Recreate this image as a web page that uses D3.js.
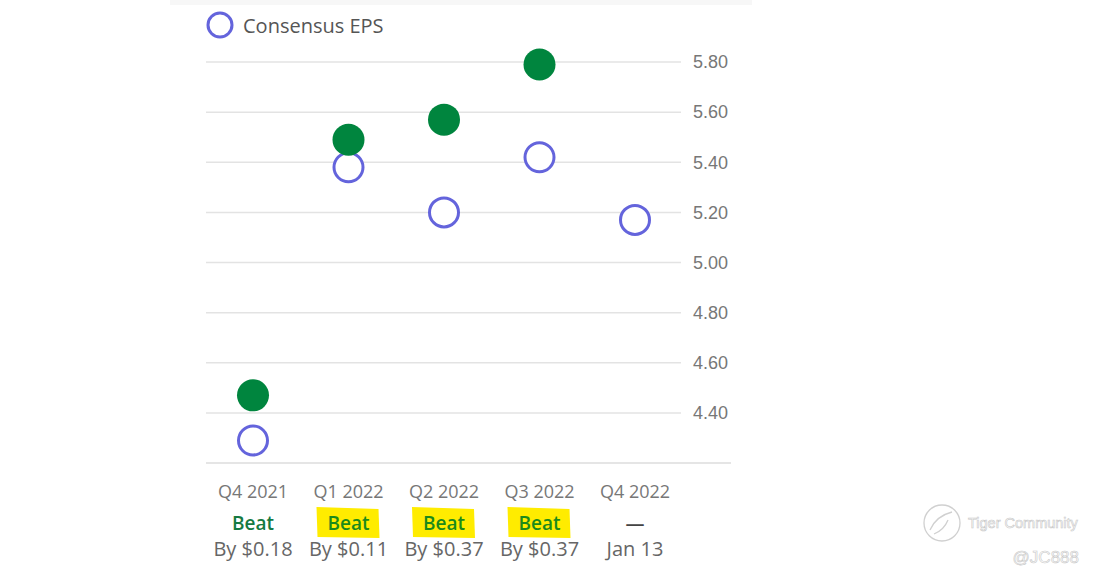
<!DOCTYPE html>
<html>
<head>
<meta charset="utf-8">
<script src="https://cdn.jsdelivr.net/npm/d3@7"></script>
<style>
  body { margin: 0; background: #fff; }
  svg { display: block; }
</style>
</head>
<body>
<div id="chart"></div>
<script>
// data
const quarters = ["Q4 2021", "Q1 2022", "Q2 2022", "Q3 2022", "Q4 2022"];
const consensus = [4.29, 5.38, 5.20, 5.42, 5.17];
const actual = [4.47, 5.49, 5.57, 5.79, null];
const resultText = ["Beat", "Beat", "Beat", "Beat", "\u2014"];
const detailText = ["By $0.18", "By $0.11", "By $0.37", "By $0.37", "Jan 13"];
const highlighted = [false, true, true, true, false];
const yTicks = [4.40, 4.60, 4.80, 5.00, 5.20, 5.40, 5.60, 5.80];

const W = 1101, H = 584;
const green = "#00853e", blue = "#6464dc";

const svg = d3.select("#chart").append("svg")
    .attr("width", W)
    .attr("height", H);

// faint top band
svg.append("rect")
    .attr("x", 170).attr("y", 0)
    .attr("width", 582).attr("height", 5)
    .attr("fill", "#f7f7f7");

const x = d3.scalePoint().domain(quarters).range([253, 635]);
const y = d3.scaleLinear().domain([4.2, 5.8]).range([463, 62]);

// gridlines
svg.selectAll(".grid")
    .data(yTicks)
    .enter().append("line")
    .attr("x1", 206).attr("x2", 681)
    .attr("y1", d => y(d)).attr("y2", d => y(d))
    .style("stroke", "#e3e3e3")
    .style("stroke-width", 1.5);

// baseline
svg.append("line")
    .attr("x1", 206).attr("x2", 731)
    .attr("y1", y(4.2)).attr("y2", y(4.2))
    .style("stroke", "#dcdcdc")
    .style("stroke-width", 1.5);

// y axis labels on the right
const yAxis = d3.axisRight(y).tickValues(yTicks).tickFormat(d3.format(".2f")).tickSize(0).tickPadding(0);
const ax = svg.append("g").attr("transform", "translate(693,0)").call(yAxis);
ax.select(".domain").remove();
ax.selectAll("text")
    .style("font-family", "'Liberation Sans', Arial, sans-serif")
    .style("font-size", "18px")
    .style("fill", "#777");

// consensus (open circles)
svg.selectAll(".cons")
    .data(quarters)
    .enter().append("circle")
    .attr("cx", d => x(d))
    .attr("cy", (d, i) => y(consensus[i]))
    .attr("r", 14.5)
    .style("fill", "#fff")
    .style("stroke", blue)
    .style("stroke-width", 3);

// actual (filled circles)
svg.selectAll(".act")
    .data(quarters.filter((d, i) => actual[i] != null))
    .enter().append("circle")
    .attr("cx", d => x(d))
    .attr("cy", d => y(actual[quarters.indexOf(d)]))
    .attr("r", 16)
    .style("fill", green);

// legend
svg.append("circle")
    .attr("cx", 220).attr("cy", 25).attr("r", 12)
    .style("fill", "#fff").style("stroke", blue).style("stroke-width", 3);
svg.append("text")
    .attr("x", 243).attr("y", 33)
    .text("Consensus EPS")
    .style("font-family", "'Open Sans', 'Noto Sans', sans-serif")
    .style("font-size", "20px")
    .style("fill", "#555");

// bottom labels
const bottom = svg.selectAll(".lab")
    .data(quarters)
    .enter().append("g")
    .attr("transform", d => `translate(${x(d)},0)`);

bottom.filter((d, i) => highlighted[i])
    .append("path")
    .attr("d", "M-32,-1 L30,1 L31,30 L-31,29 Z")
    .attr("transform", "translate(0,508)")
    .style("fill", "#ffec00");

bottom.append("text")
    .attr("y", 498)
    .attr("text-anchor", "middle")
    .text(d => d)
    .style("font-family", "'Open Sans', 'Noto Sans', sans-serif")
    .style("font-size", "18px")
    .style("fill", "#777");

bottom.append("text")
    .attr("y", 530)
    .attr("text-anchor", "middle")
    .text((d, i) => resultText[i])
    .style("font-family", "'Open Sans', 'Noto Sans', sans-serif")
    .style("font-size", "19px")
    .style("font-weight", "600")
    .style("fill", (d, i) => i < 4 ? (highlighted[i] ? "#1b8a1b" : "#157a42") : "#444");

bottom.append("text")
    .attr("y", 556)
    .attr("text-anchor", "middle")
    .text((d, i) => detailText[i])
    .style("font-family", "'Open Sans', 'Noto Sans', sans-serif")
    .style("font-size", "20px")
    .style("fill", "#666");

// watermark
const wm = svg.append("g").style("fill", "none").style("stroke", "#d0d0d0").style("stroke-width", 1.3);
wm.append("circle").attr("cx", 942).attr("cy", 523).attr("r", 18);
wm.append("path").attr("d", "M930,530 q6,-14 22,-18 M934,534 q10,-4 14,-14");
svg.append("text")
    .attr("x", 968).attr("y", 528)
    .text("Tiger Community")
    .style("font-family", "'Liberation Sans', Arial, sans-serif")
    .style("font-size", "14.5px")
    .style("fill", "#fff")
    .style("stroke", "#c8c8c8")
    .style("stroke-width", 0.6);
svg.append("text")
    .attr("x", 1079).attr("y", 563)
    .attr("text-anchor", "end")
    .text("@JC888")
    .style("font-family", "'Liberation Sans', Arial, sans-serif")
    .style("font-size", "17px")
    .style("fill", "#fff")
    .style("stroke", "#c8c8c8")
    .style("stroke-width", 0.6);
</script>
</body>
</html>
